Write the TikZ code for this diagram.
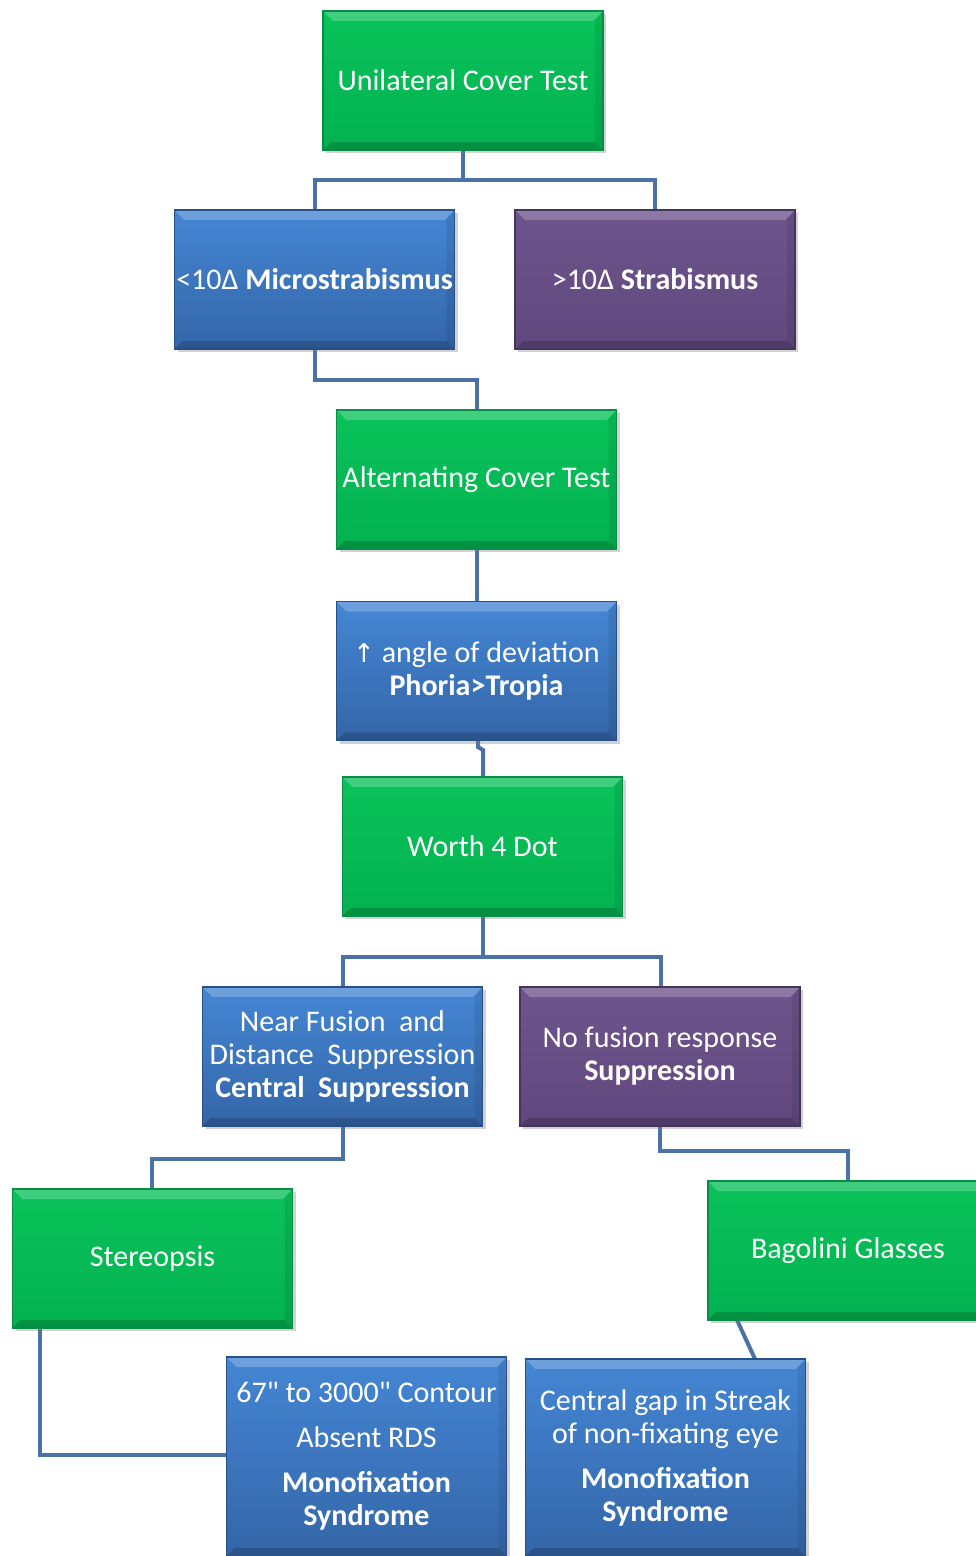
\documentclass[tikz,border=0pt]{standalone}
\usepackage{fontspec}
\setmainfont{Carlito}
\newfontfamily\plainq{Carlito}[Ligatures=TeXOff]
\newfontfamily\symfont{DejaVu Sans}
\usetikzlibrary{shadows,calc}
\definecolor{gtop}{RGB}{10,194,90}
\definecolor{gbot}{RGB}{2,178,80}
\definecolor{gline}{RGB}{10,140,70}
\definecolor{btop}{RGB}{68,134,212}
\definecolor{bbot}{RGB}{52,102,168}
\definecolor{bline}{RGB}{40,80,135}
\definecolor{ptop}{RGB}{110,84,140}
\definecolor{pbot}{RGB}{96,72,126}
\definecolor{pline}{RGB}{70,52,95}
\definecolor{conn}{RGB}{74,114,166}
\tikzset{
  box/.style={rectangle, minimum width=280pt, minimum height=139pt, inner sep=0pt,
    text=white, align=center, font=\fontsize{30}{33}\selectfont,
    drop shadow={opacity=0.35, shadow xshift=3pt, shadow yshift=-3pt},
    path picture={
      \fill[white,opacity=0.22] (path picture bounding box.north west) -- (path picture bounding box.north east)
        -- ([xshift=-10pt,yshift=-10pt]path picture bounding box.north east)
        -- ([xshift=10pt,yshift=-10pt]path picture bounding box.north west) -- cycle;
      \fill[black,opacity=0.18] (path picture bounding box.south west) -- (path picture bounding box.south east)
        -- ([xshift=-8pt,yshift=8pt]path picture bounding box.south east)
        -- ([xshift=8pt,yshift=8pt]path picture bounding box.south west) -- cycle;
      \fill[black,opacity=0.08] (path picture bounding box.south east) -- (path picture bounding box.north east)
        -- ([xshift=-8pt,yshift=-10pt]path picture bounding box.north east)
        -- ([xshift=-8pt,yshift=8pt]path picture bounding box.south east) -- cycle;
    }},
  greenbox/.style={box, top color=gtop, bottom color=gbot, draw=gline, line width=1.2pt},
  bluebox/.style={box, top color=btop, bottom color=bbot, draw=bline, line width=1.2pt},
  purplebox/.style={box, top color=ptop, bottom color=pbot, draw=pline, line width=1.2pt},
  link/.style={draw=conn, line width=4pt, line cap=rect, line join=miter}
}
\begin{document}
\begin{tikzpicture}[x=1pt,y=-1pt]
\useasboundingbox[fill=white] (0,0) rectangle (976,1556);
\clip (0,0) rectangle (976,1556);
% connectors
\coordinate (c1) at (463,180);
\draw[link] (463,150) -- (c1);
\draw[link] (315,210) |- (c1) -| (655,210);
\draw[link] (315,349) -- (315,380) -| (477,410);
\draw[link] (477,549) -- (477,602);
\draw[link] (478,740) -- (478,747) -- (483,750) -- (483,777);
\coordinate (c6) at (483,957);
\draw[link] (483,916) -- (c6);
\draw[link] (343,987) |- (c6) -| (661,987);
\draw[link] (343,1126) -- (343,1159) -| (152,1189);
\draw[link] (660,1126) -- (660,1151) -| (848,1181);
\draw[link] (40,1328) |- (227,1455);
\draw[link] (737,1320) -- (755,1359);
% boxes
\node[greenbox] (b1) at (463,80.5) {Unilateral Cover Test};
\node[bluebox] (b2) at (314.5,279.5) {<10Δ \textbf{Microstrabismus}};
\node[purplebox] (b3) at (655,279.5) {>10Δ \textbf{Strabismus}};
\node[greenbox] (b4) at (476.5,479.5) {Alternating Cover Test};
\node[bluebox] (b5) at (476.5,671) {{\symfont\fontsize{26}{33}\selectfont ↑} angle of deviation\\ \textbf{Phoria>Tropia}};
\node[greenbox] (b6) at (482.5,846.5) {Worth 4 Dot};
\node[bluebox] (b7) at (342.5,1056.5) {Near Fusion~ and\\ Distance~ Suppression\\ \textbf{Central~ Suppression}};
\node[purplebox] (b8) at (660,1056.5) {No fusion response\\ \textbf{Suppression}};
\node[greenbox] (b9) at (152.5,1258.5) {Stereopsis};
\node[greenbox] (b10) at (848,1250.5) {Bagolini Glasses};
\node[bluebox, minimum height=199pt] (b11) at (366.5,1456.5) {{\plainq 67" to 3000" Contour}\\[12pt] Absent RDS\\[12pt] \textbf{Monofixation}\\ \textbf{Syndrome}};
\node[bluebox, minimum height=197pt] (b12) at (665.5,1457.5) {Central gap in Streak\\ of non-fixating eye\\[12pt] \textbf{Monofixation}\\ \textbf{Syndrome}};
\end{tikzpicture}
\end{document}
